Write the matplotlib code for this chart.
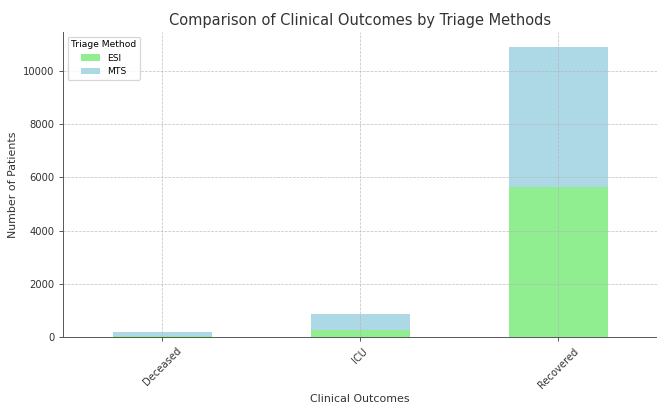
#!/usr/bin/python3

import pandas as pd
from matplotlib import pyplot as plt

# patient counts per clinical outcome
outcomes = ["Deceased", "ICU", "Recovered"]
esi = [40, 270, 5650]
mts = [160, 590, 5250]

# colors
colors = ["lightgreen", "lightblue"]

# steering
dpi_val = 88

df = pd.DataFrame({"ESI": esi, "MTS": mts}, index=outcomes)

# make new plot
fig = plt.figure(figsize=(657 / dpi_val, 405 / dpi_val), dpi=dpi_val)
ax = fig.add_axes([0.096, 0.167, 0.904, 0.754])

df.plot(kind="bar", stacked=True, ax=ax, color=colors, width=0.5)

# axis ranges
ax.set_xlim(-0.5, 2.5)
ax.set_ylim(0, 11450)

# add grid
ax.grid(ls="--", lw=0.6, c="0.7", alpha=0.8)

# hide top and right frame
ax.spines["top"].set_visible(False)
ax.spines["right"].set_visible(False)
ax.spines["left"].set_color("0.35")
ax.spines["bottom"].set_color("0.35")
ax.tick_params(colors="0.35", labelcolor="0.2", labelsize=8.2)

# set title and axis labels
plt.title("Comparison of Clinical Outcomes by Triage Methods", color="0.2", fontsize=12)
plt.xlabel("Clinical Outcomes", color="0.2", fontsize=9, labelpad=3)
plt.ylabel("Number of Patients", color="0.2", fontsize=9)
plt.xticks(rotation=45)

# legend
plt.legend(title="Triage Method", loc="upper left", fontsize=7.5, title_fontsize=7.5)

# save fig
fig.savefig("out.png", dpi=dpi_val)
